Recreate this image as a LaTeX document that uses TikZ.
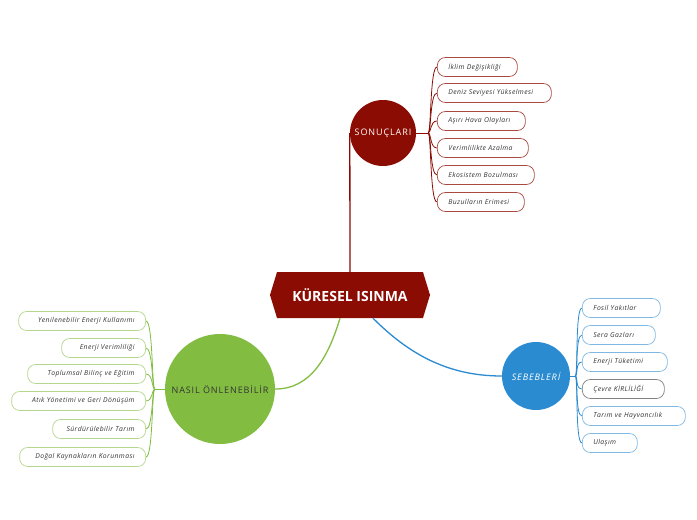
\documentclass[tikz,border=0pt]{standalone}
\usepackage{fontspec}
\setmainfont{Open Sans}
\usetikzlibrary{shapes.symbols}

\definecolor{darkred}{HTML}{8B0C03}
\definecolor{skyblue}{HTML}{2A8BD0}
\definecolor{leafgreen}{HTML}{82BD42}
\definecolor{inkgray}{HTML}{333333}

\tikzset{
  topic/.style={circle, inner sep=0, text=white, font=\fontsize{9}{10}\selectfont\addfontfeature{LetterSpace=10}},
  leaf/.style={draw, rounded corners=8pt, minimum height=19pt, inner xsep=11pt, inner ysep=0,
    text=inkgray, font=\fontsize{6.8}{8}\selectfont\itshape\addfontfeature{LetterSpace=6}, line width=.7pt},
  wire/.style={line width=1.3pt},
  twig/.style={line width=.8pt}
}

\begin{document}
\begin{tikzpicture}[x=1pt, y=-1pt]

    \fill[white] (0,0) rectangle (697,520);
    \useasboundingbox (0,0) rectangle (697,520);

    % Central topic
    \node[signal, signal to=east and west, signal pointer angle=146, fill=darkred, minimum width=160pt,
      minimum height=46pt, inner sep=0, text=white, font=\fontsize{14}{16}\selectfont\bfseries]
      (kuresel) at (350,295) {KÜRESEL ISINMA};

    % Main topics
    \node[topic, fill=darkred, minimum size=66pt] (sonuc) at (383,133) {SONUÇLARI};
    \node[topic, fill=skyblue, minimum size=68pt, font=\fontsize{9}{10}\selectfont\itshape\addfontfeature{LetterSpace=10}] (sebep) at (536,376) {SEBEBLERİ};
    \node[topic, fill=leafgreen, minimum size=110pt, text=inkgray] (nasil) at (220,389) {NASIL ÖNLENEBİLİR};

    \draw[wire, darkred] (kuresel.north) -- (sonuc.west);
    \draw[wire, leafgreen] ([xshift=-10pt]kuresel.south) .. controls +(-12,40) and +(35,0) .. (nasil.east);
    \draw[wire, skyblue] ([xshift=23pt]kuresel.south) .. controls +(35,35) and +(-55,0) .. (sebep.west);

    % Sonuclar
    \draw[twig, darkred] (sonuc.east) -- ++(12,0) coordinate (sj);
    \foreach \y/\txt/\w [count=\n] in {67/İklim Değişikliği/80, 93/Deniz Seviyesi Yükselmesi/114,
        121/Aşırı Hava Olayları/88, 148/Verimlilikte Azalma/91, 175/Ekosistem Bozulması/97,
        202/Buzulların Erimesi/87} {
      \node[leaf, draw=darkred!75, anchor=west, text width=\w pt-22pt, align=left] (s\n) at (437,\y) {\txt};
      \draw[twig, darkred] (sj) .. controls +(3,0) and +(-7,0) .. (s\n.west);
    }

    % Sebepler
    \draw[twig, skyblue] (sebep.east) -- ++(5,0) coordinate (bj);
    \foreach \y/\txt/\w/\col [count=\n] in {308/Fosil Yakıtlar/78/skyblue!60, 335/Sera Gazları/73/skyblue!60,
        362/Enerji Tüketimi/85/skyblue!60, 389/Çevre KİRLİLİĞİ/82/gray,
        416/Tarım ve Hayvancılık/103/skyblue!60, 443/Ulaşım/55/skyblue!60} {
      \node[leaf, draw=\col, anchor=west, text width=\w pt-22pt, align=left] (b\n) at (582,\y) {\txt};
      \draw[twig, skyblue] (bj) .. controls +(3,0) and +(-7,0) .. (b\n.west);
    }

    % Nasil onlenebilir
    \draw[twig, leafgreen] (nasil.west) -- ++(-10,0) coordinate (nj);
    \foreach \y/\txt/\w [count=\n] in {321/Yenilenebilir Enerji Kullanımı/127, 348/Enerji Verimliliği/84,
        374/Toplumsal Bilinç ve Eğitim/118, 401/Atık Yönetimi ve Geri Dönüşüm/134,
        429/Sürdürülebilir Tarım/93, 457/Doğal Kaynakların Korunması/126} {
      \node[leaf, draw=leafgreen!60, anchor=east, text width=\w pt-22pt, align=right] (n\n) at (146,\y) {\txt};
      \draw[twig, leafgreen] (nj) .. controls +(-3,0) and +(7,0) .. (n\n.east);
    }
  \end{tikzpicture}
\end{document}
